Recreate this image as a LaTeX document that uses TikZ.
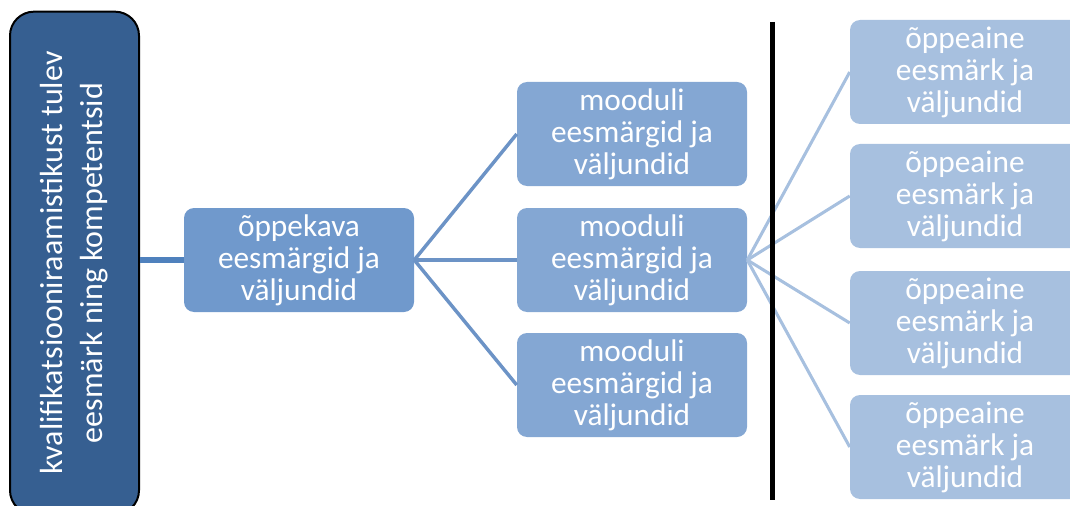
\documentclass[tikz,border=0pt]{standalone}
\usepackage{fontspec}
\setmainfont{Carlito}
\definecolor{rootfill}{RGB}{54,95,145}
\definecolor{rootlink}{RGB}{79,129,189}
\definecolor{lvlone}{RGB}{112,153,204}
\definecolor{lvltwo}{RGB}{132,167,211}
\definecolor{lvlthree}{RGB}{167,192,223}
\definecolor{linkone}{RGB}{108,147,198}
\definecolor{linktwo}{RGB}{167,192,223}
\begin{document}
\begin{tikzpicture}[x=0.75pt,y=-0.75pt,
  card/.style={rounded corners=7.5pt, minimum width=172.5pt, minimum height=78pt,
    align=center, text=white, inner sep=0pt,
    font=\fontsize{23.5}{24}\selectfont},
  rootbox/.style={draw=black, line width=1.5pt, fill=rootfill, rounded corners=18pt,
    rotate=90, minimum width=377pt, minimum height=96.75pt, inner sep=0pt,
    align=center, text=white,
    font=\fontsize{24}{30}\selectfont},
  fanone/.style={draw=linkone, line width=2.6pt},
  fantwo/.style={draw=linktwo, line width=2.3pt}]
\useasboundingbox (0,0) rectangle (1070,506);

% root box, running past the lower edge
\node[rootbox] (root) at (74.5,263) {kvalifikatsiooniraamistikust tulev\\eesmärk ning kompetentsid};

% curriculum level
\node[card, fill=lvlone] (plan) at (299,260) {õppekava\\eesmärgid ja\\väljundid};

% module level
\node[card, fill=lvltwo] (modA) at (632,134) {mooduli\\eesmärgid ja\\väljundid};
\node[card, fill=lvltwo] (modB) at (632,260) {mooduli\\eesmärgid ja\\väljundid};
\node[card, fill=lvltwo] (modC) at (632,385) {mooduli\\eesmärgid ja\\väljundid};

% subject level
\node[card, fill=lvlthree] (subA) at (965,72)  {õppeaine\\eesmärk ja\\väljundid};
\node[card, fill=lvlthree] (subB) at (965,196) {õppeaine\\eesmärk ja\\väljundid};
\node[card, fill=lvlthree] (subC) at (965,323) {õppeaine\\eesmärk ja\\väljundid};
\node[card, fill=lvlthree] (subD) at (965,447) {õppeaine\\eesmärk ja\\väljundid};

% connectors
\draw[draw=rootlink, line width=4.8pt] (root.south |- plan.west) -- (plan.west);
\foreach \m in {modA,modB,modC} \draw[fanone] (plan.east) -- (\m.west);
\foreach \s in {subA,subB,subC,subD} \draw[fantwo] (modB.east) -- (\s.west);

% separator
\coordinate (sepTop) at (772.5,22);
\coordinate (sepBot) at (772.5,500);
\draw[black, line width=3.8pt] (sepTop) -- (sepBot);
\end{tikzpicture}
\end{document}
